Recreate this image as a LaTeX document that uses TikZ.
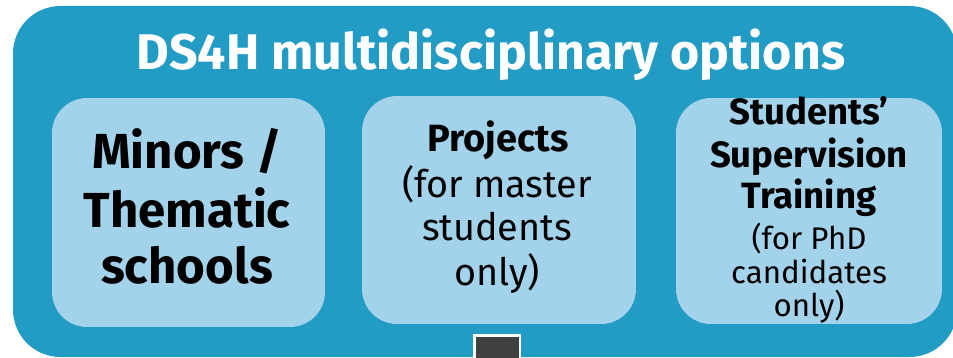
\documentclass[tikz,border=0pt]{standalone}
\usepackage{fontspec}
\setmainfont{Fira Sans}
\definecolor{panelblue}{HTML}{229BC5}
\definecolor{boxblue}{HTML}{A3D2EB}
\definecolor{stubgray}{HTML}{404040}
\begin{document}
\begin{tikzpicture}[x=0.02cm, y=-0.02cm,
        optbox/.style={fill=boxblue, rounded corners=0.7cm, inner sep=0pt},
        line/.style={anchor=base, inner sep=0pt},
        bigtext/.style={line, font=\fontsize{28}{32}\selectfont\bfseries},
        midbold/.style={line, font=\fontsize{21.6}{25}\selectfont\bfseries},
        midtext/.style={line, font=\fontsize{21.5}{25}\selectfont},
        smallbold/.style={line, font=\fontsize{20.8}{24}\selectfont\bfseries},
        smalltext/.style={line, font=\fontsize{17.8}{19}\selectfont}]
            \useasboundingbox (0,0) rectangle (953,358);
            \fill[panelblue, rounded corners=0.95cm] (13,6) rectangle (957,357);
            \node[line, white, font=\fontsize{28.5}{32}\selectfont\bfseries] (title) at (491,70) {DS4H multidisciplinary options};
            \node[optbox, minimum width=5.46cm, minimum height=4.58cm] (minors) at (188.5,212.5) {};
            \node[optbox, minimum width=5.48cm, minimum height=4.56cm] (projects) at (499,210) {};
            \node[optbox, minimum width=5.32cm, minimum height=4.52cm] (supervision) at (809,211) {};
            \foreach \txt/\yy [count=\i] in {{Minors /}/168, {Thematic}/227, {schools}/283}
                \node[bigtext] (minors\i) at (187,\yy) {\txt};
            \node[midbold] (projects1) at (498,152) {Projects};
            \foreach \txt/\yy [count=\i from 2] in {{(for master}/197, {students}/240, {only)}/285}
                \node[midtext] (projects\i) at (497,\yy) {\txt};
            \foreach \txt/\yy [count=\i] in {{Students’}/125, {Supervision}/167, {Training}/208}
                \node[smallbold] (supervision\i) at (809,\yy) {\txt};
            \foreach \txt/\yy [count=\i from 4] in {{(for PhD}/249, {candidates}/283, {only)}/316}
                \node[smalltext] (supervision\i) at (809,\yy) {\txt};
            \draw[white, line width=1.3pt, fill=stubgray] (474.6,335.6) rectangle (520,370);
        \end{tikzpicture}
\end{document}
